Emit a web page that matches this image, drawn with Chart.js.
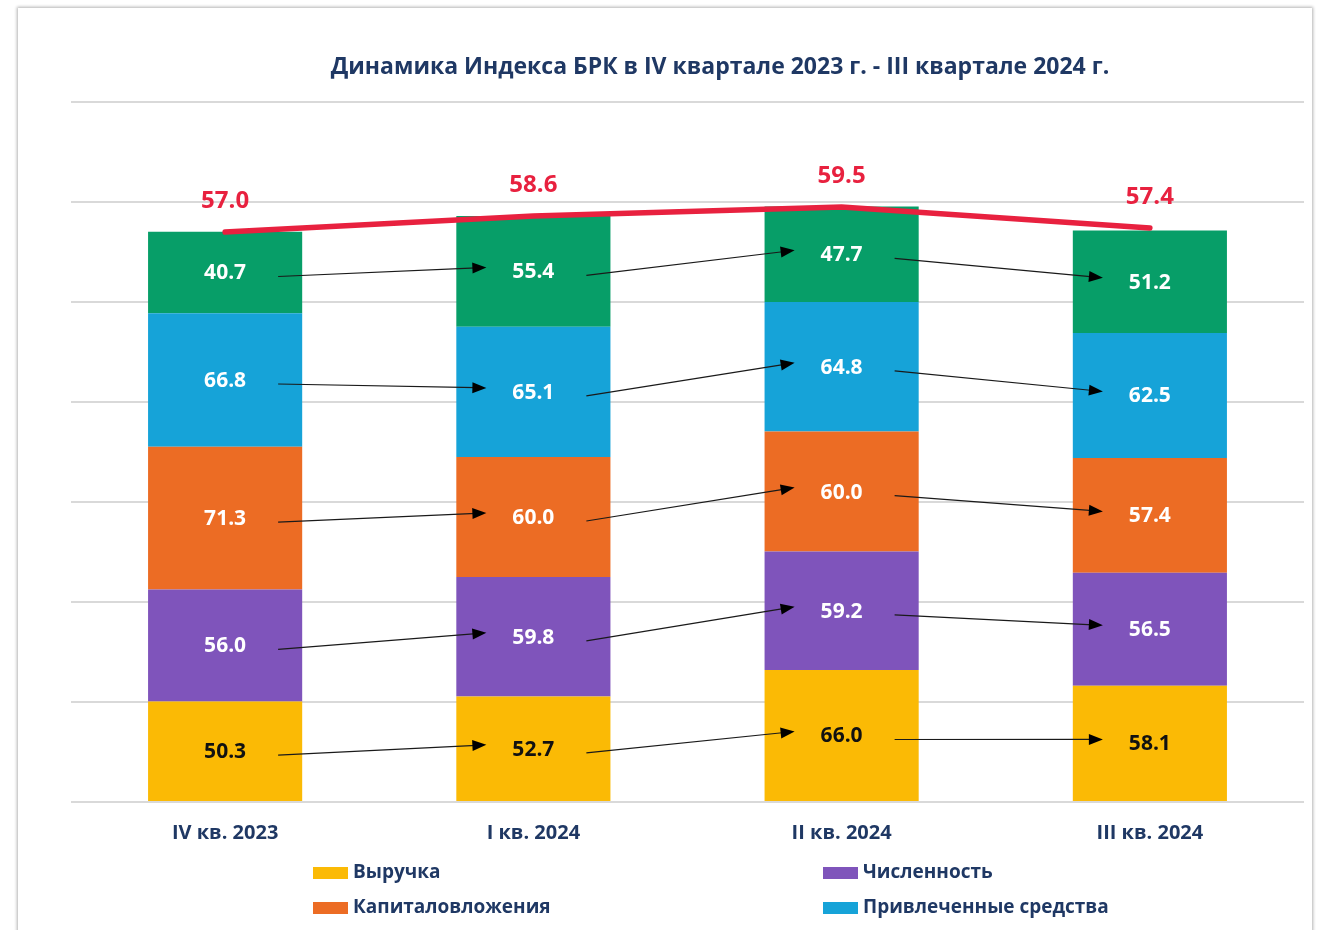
<!DOCTYPE html>
<html lang="ru">
<head>
<meta charset="utf-8">
<script src="https://cdn.jsdelivr.net/npm/chart.js@4.4.1/dist/chart.umd.min.js"></script>
<style>
  html, body { margin: 0; padding: 0; background: #fff; }
  .card {
    position: absolute; left: 18px; top: 8px; width: 1294px; height: 1000px;
    background: #fff;
    box-shadow: 0 0 3px 1px rgba(0, 0, 0, 0.3);
  }
  #brkChart { position: absolute; left: 0; top: 0; }
</style>
</head>
<body>
<div class="card"></div>
<canvas id="brkChart" width="1320" height="930"></canvas>
<script>
// --- data ---
const quarters = ['IV кв. 2023', 'I кв. 2024', 'II кв. 2024', 'III кв. 2024'];
const revenue = [50.3, 52.7, 66.0, 58.1];        // Выручка
const headcount = [56.0, 59.8, 59.2, 56.5];      // Численность
const capex = [71.3, 60.0, 60.0, 57.4];          // Капиталовложения
const borrowed = [66.8, 65.1, 64.8, 62.5];       // Привлеченные средства
const profit = [40.7, 55.4, 47.7, 51.2];         // пятый компонент (зелёный)
const brkIndex = [57.0, 58.6, 59.5, 57.4];       // Индекс БРК
const stackMax = 350;
const stackStep = 50;
const indexMax = 70;                             // индекс = среднее пяти компонент

const NAVY = '#1F3864';
const FONT = "'Open Sans', sans-serif";

// --- plugins ---
const titlePlugin = {
  id: 'titleText',
  afterDraw(chart) {
    const ctx = chart.ctx;
    ctx.save();
    ctx.font = `bold 23px ${FONT}`;
    ctx.fillStyle = NAVY;
    ctx.textAlign = 'center';
    ctx.textBaseline = 'middle';
    ctx.fillText('Динамика Индекса БРК в IV квартале 2023 г. - III квартале 2024 г.', 720, 67);
    ctx.restore();
  }
};

const segmentLabels = {
  id: 'segmentLabels',
  afterDatasetsDraw(chart) {
    const ctx = chart.ctx;
    ctx.save();
    ctx.textAlign = 'center';
    ctx.textBaseline = 'middle';
    chart.data.datasets.forEach((ds, i) => {
      const meta = chart.getDatasetMeta(i);
      if (ds.type === 'line') {
        ctx.font = `bold 24px ${FONT}`;
        ctx.fillStyle = ds.borderColor;
        meta.data.forEach((pt, j) => ctx.fillText(ds.data[j].toFixed(1), pt.x, pt.y - 31));
        return;
      }
      ctx.font = `bold 21px ${FONT}`;
      ctx.fillStyle = ds.labelColor;
      meta.data.forEach((bar, j) => {
        ctx.fillText(ds.data[j].toFixed(1), bar.x, (bar.y + bar.base) / 2 + 1);
      });
    });
    ctx.restore();
  }
};

// arrows from each value to the same component in the next quarter
const arrowPlugin = {
  id: 'arrows',
  afterDatasetsDraw(chart) {
    const ctx = chart.ctx;
    ctx.save();
    ctx.strokeStyle = '#1a1a1a';
    ctx.fillStyle = '#000';
    ctx.lineWidth = 1.2;
    chart.data.datasets.forEach((ds, i) => {
      if (ds.type === 'line') return;
      const bars = chart.getDatasetMeta(i).data;
      for (let j = 0; j < bars.length - 1; j++) {
        const a = bars[j], b = bars[j + 1];
        const x1 = a.x + 53, y1 = (a.y + a.base) / 2 + 4;
        const x2 = b.x - 47, y2 = (b.y + b.base) / 2 - 4;
        const ang = Math.atan2(y2 - y1, x2 - x1);
        ctx.beginPath();
        ctx.moveTo(x1, y1);
        ctx.lineTo(x2 - 10 * Math.cos(ang), y2 - 10 * Math.sin(ang));
        ctx.stroke();
        ctx.beginPath();
        ctx.moveTo(x2, y2);
        ctx.lineTo(x2 - 14 * Math.cos(ang) + 5.5 * Math.sin(ang), y2 - 14 * Math.sin(ang) - 5.5 * Math.cos(ang));
        ctx.lineTo(x2 - 14 * Math.cos(ang) - 5.5 * Math.sin(ang), y2 - 14 * Math.sin(ang) + 5.5 * Math.cos(ang));
        ctx.closePath();
        ctx.fill();
      }
    });
    ctx.restore();
  }
};

// two-column legend under the axis
const legendPlugin = {
  id: 'twoColLegend',
  afterDraw(chart) {
    const ctx = chart.ctx;
    const cols = [313, 823];
    const rowTop = 873, rowGap = 35;
    ctx.save();
    ctx.font = `bold 19px ${FONT}`;
    ctx.textBaseline = 'middle';
    ctx.textAlign = 'left';
    let k = 0;
    chart.data.datasets.forEach(ds => {
      if (ds.type === 'line') return;
      const x = cols[k % 2];
      const y = rowTop + Math.floor(k / 2) * rowGap;
      ctx.fillStyle = ds.backgroundColor;
      ctx.fillRect(x, y - 6, 35, 12);
      ctx.fillStyle = NAVY;
      ctx.fillText(ds.label, x + 40, y);
      k++;
    });
    ctx.restore();
  }
};

const barSet = (label, data, color, labelColor) => ({
  type: 'bar', label, data, backgroundColor: color, labelColor,
  barPercentage: 0.5, categoryPercentage: 1, order: 1, yAxisID: 'y'
});

new Chart(document.getElementById('brkChart'), {
  data: {
    labels: quarters,
    datasets: [
      {
        type: 'line', label: 'Индекс БРК', data: brkIndex, yAxisID: 'y2',
        borderColor: '#E8213F', borderWidth: 5.5, borderCapStyle: 'round',
        pointRadius: 0, tension: 0, order: 0
      },
      barSet('Выручка', revenue, '#FBBA05', '#111'),
      barSet('Численность', headcount, '#7F54BB', '#fff'),
      barSet('Капиталовложения', capex, '#EC6C24', '#fff'),
      barSet('Привлеченные средства', borrowed, '#16A3D8', '#fff'),
      barSet('Прибыль', profit, '#079E68', '#fff')
    ]
  },
  options: {
    responsive: false,
    animation: false,
    layout: { padding: { left: 71, right: 16, top: 102, bottom: 66 } },
    plugins: {
      legend: { display: false },
      title: { display: false },
      tooltip: { enabled: false }
    },
    scales: {
      x: {
        stacked: true,
        grid: { display: false, drawTicks: false },
        border: { display: false },
        ticks: { color: NAVY, font: { family: FONT, size: 20, weight: 'bold' }, padding: 19 }
      },
      y: {
        stacked: true, min: 0, max: stackMax,
        ticks: { display: false, stepSize: stackStep },
        grid: { color: '#D9D9D9', lineWidth: 2, drawTicks: false },
        border: { display: false }
      },
      y2: { display: false, min: 0, max: indexMax }
    }
  },
  plugins: [titlePlugin, segmentLabels, arrowPlugin, legendPlugin]
});
</script>
</body>
</html>
